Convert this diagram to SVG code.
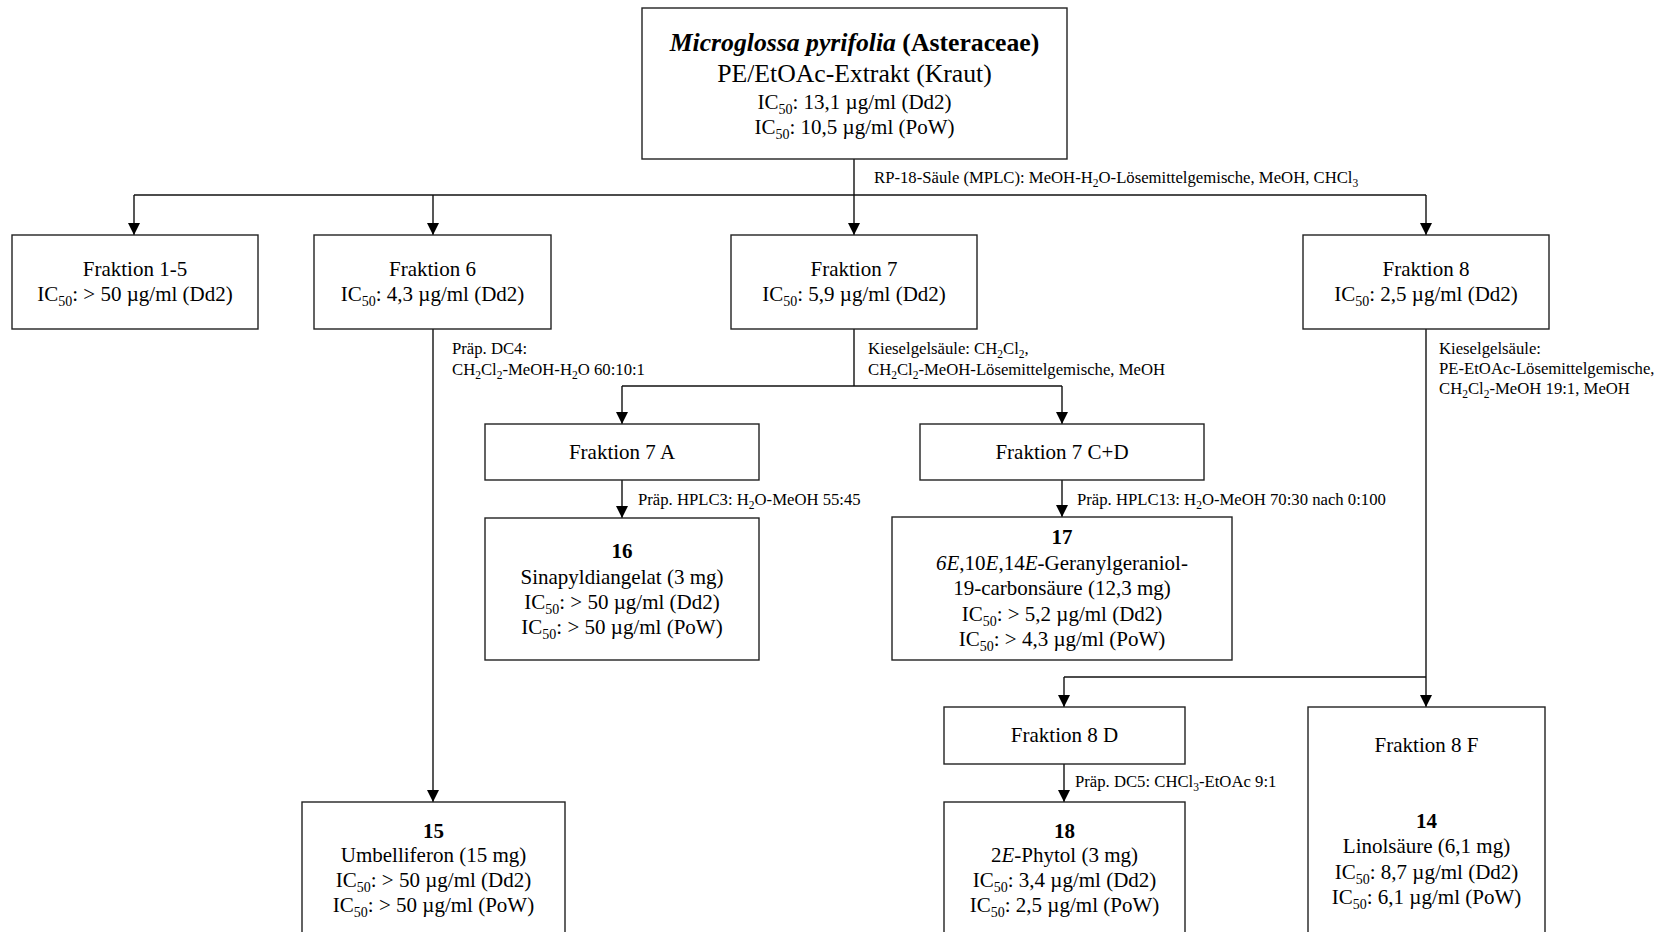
<svg xmlns="http://www.w3.org/2000/svg" width="1659" height="932" viewBox="0 0 1659 932">
<style>
text{font-family:"Liberation Serif","Times New Roman",serif;fill:#000;}
.n{font-size:21px;text-anchor:middle;}
.t{font-size:25.7px;text-anchor:middle;}
.l{font-size:16.7px;}
.b{font-weight:bold;}
.i{font-style:italic;}
.box{fill:#fff;stroke:#222;stroke-width:1.4;}
.c path{fill:none;stroke:#111;stroke-width:1.4;}
</style>
<defs>
<marker id="a" markerUnits="userSpaceOnUse" markerWidth="12" markerHeight="12" viewBox="0 0 12 12" refX="12" refY="6" orient="auto">
<path d="M0,0 L12,6 L0,12 z" fill="#000"/>
</marker>
</defs>
<rect width="1659" height="932" fill="#fff"/>
<g class="c" id="connectors">
<path d="M854,159 V195"/>
<path d="M134,195 H1426"/>
<path d="M134,195 V235" marker-end="url(#a)"/>
<path d="M433,195 V235" marker-end="url(#a)"/>
<path d="M854,195 V235" marker-end="url(#a)"/>
<path d="M1426,195 V235" marker-end="url(#a)"/>
<path d="M433,329 V802" marker-end="url(#a)"/>
<path d="M854,329 V386"/>
<path d="M622,386 H1062"/>
<path d="M622,386 V424" marker-end="url(#a)"/>
<path d="M1062,386 V424" marker-end="url(#a)"/>
<path d="M622,480 V518" marker-end="url(#a)"/>
<path d="M1062,480 V517" marker-end="url(#a)"/>
<path d="M1426,329 V707" marker-end="url(#a)"/>
<path d="M1064,677 H1426"/>
<path d="M1064,677 V707" marker-end="url(#a)"/>
<path d="M1064,764 V802" marker-end="url(#a)"/>
</g>
<g id="labels">
<text class="l" x="874" y="183">RP-18-Säule (MPLC): MeOH-H<tspan dy="4" font-size="11.5">2</tspan><tspan dy="-4">O-Lösemittelgemische, MeOH, CHCl</tspan><tspan dy="4" font-size="11.5">3</tspan></text>
<text class="l" x="452" y="354">Präp. DC4:</text>
<text class="l" x="452" y="375">CH<tspan dy="4" font-size="11.5">2</tspan><tspan dy="-4">Cl</tspan><tspan dy="4" font-size="11.5">2</tspan><tspan dy="-4">-MeOH-H</tspan><tspan dy="4" font-size="11.5">2</tspan><tspan dy="-4">O 60:10:1</tspan></text>
<text class="l" x="868" y="354">Kieselgelsäule: CH<tspan dy="4" font-size="11.5">2</tspan><tspan dy="-4">Cl</tspan><tspan dy="4" font-size="11.5">2</tspan><tspan dy="-4">,</tspan></text>
<text class="l" x="868" y="375">CH<tspan dy="4" font-size="11.5">2</tspan><tspan dy="-4">Cl</tspan><tspan dy="4" font-size="11.5">2</tspan><tspan dy="-4">-MeOH-Lösemittelgemische, MeOH</tspan></text>
<text class="l" x="1439" y="354">Kieselgelsäule:</text>
<text class="l" x="1439" y="374">PE-EtOAc-Lösemittelgemische,</text>
<text class="l" x="1439" y="394">CH<tspan dy="4" font-size="11.5">2</tspan><tspan dy="-4">Cl</tspan><tspan dy="4" font-size="11.5">2</tspan><tspan dy="-4">-MeOH 19:1, MeOH</tspan></text>
<text class="l" x="638" y="505">Präp. HPLC3: H<tspan dy="4" font-size="11.5">2</tspan><tspan dy="-4">O-MeOH 55:45</tspan></text>
<text class="l" x="1077" y="505">Präp. HPLC13: H<tspan dy="4" font-size="11.5">2</tspan><tspan dy="-4">O-MeOH 70:30 nach 0:100</tspan></text>
<text class="l" x="1075" y="787">Präp. DC5: CHCl<tspan dy="4" font-size="11.5">3</tspan><tspan dy="-4">-EtOAc 9:1</tspan></text>
</g>
<g id="n-top">
<rect class="box" x="642" y="8" width="425" height="151"/>
<text class="t b" x="854.5" y="51"><tspan class="i">Microglossa pyrifolia</tspan> (Asteraceae)</text>
<text class="t" x="854.5" y="82">PE/EtOAc-Extrakt (Kraut)</text>
<text class="n" x="854.5" y="109">IC<tspan dy="5" font-size="14">50</tspan><tspan dy="-5">: 13,1 µg/ml (Dd2)</tspan></text>
<text class="n" x="854.5" y="134">IC<tspan dy="5" font-size="14">50</tspan><tspan dy="-5">: 10,5 µg/ml (PoW)</tspan></text>
</g>
<g id="n-f1-5">
<rect class="box" x="12" y="235" width="246" height="94"/>
<text class="n" x="135" y="276">Fraktion 1-5</text>
<text class="n" x="135" y="301">IC<tspan dy="5" font-size="14">50</tspan><tspan dy="-5">: &gt; 50 µg/ml (Dd2)</tspan></text>
</g>
<g id="n-f6">
<rect class="box" x="314" y="235" width="237" height="94"/>
<text class="n" x="432.5" y="276">Fraktion 6</text>
<text class="n" x="432.5" y="301">IC<tspan dy="5" font-size="14">50</tspan><tspan dy="-5">: 4,3 µg/ml (Dd2)</tspan></text>
</g>
<g id="n-f7">
<rect class="box" x="731" y="235" width="246" height="94"/>
<text class="n" x="854" y="276">Fraktion 7</text>
<text class="n" x="854" y="301">IC<tspan dy="5" font-size="14">50</tspan><tspan dy="-5">: 5,9 µg/ml (Dd2)</tspan></text>
</g>
<g id="n-f8">
<rect class="box" x="1303" y="235" width="246" height="94"/>
<text class="n" x="1426" y="276">Fraktion 8</text>
<text class="n" x="1426" y="301">IC<tspan dy="5" font-size="14">50</tspan><tspan dy="-5">: 2,5 µg/ml (Dd2)</tspan></text>
</g>
<g id="n-f7a">
<rect class="box" x="485" y="424" width="274" height="56"/>
<text class="n" x="622" y="459">Fraktion 7 A</text>
</g>
<g id="n-f7cd">
<rect class="box" x="920" y="424" width="284" height="56"/>
<text class="n" x="1062" y="459">Fraktion 7 C+D</text>
</g>
<g id="n-16">
<rect class="box" x="485" y="518" width="274" height="142"/>
<text class="n b" x="622" y="558">16</text>
<text class="n" x="622" y="584">Sinapyldiangelat (3 mg)</text>
<text class="n" x="622" y="609">IC<tspan dy="5" font-size="14">50</tspan><tspan dy="-5">: &gt; 50 µg/ml (Dd2)</tspan></text>
<text class="n" x="622" y="634">IC<tspan dy="5" font-size="14">50</tspan><tspan dy="-5">: &gt; 50 µg/ml (PoW)</tspan></text>
</g>
<g id="n-17">
<rect class="box" x="892" y="517" width="340" height="143"/>
<text class="n b" x="1062" y="544">17</text>
<text class="n" x="1062" y="570"><tspan class="i">6E</tspan>,10<tspan class="i">E</tspan>,14<tspan class="i">E</tspan>-Geranylgeraniol-</text>
<text class="n" x="1062" y="595">19-carbonsäure (12,3 mg)</text>
<text class="n" x="1062" y="621">IC<tspan dy="5" font-size="14">50</tspan><tspan dy="-5">: &gt; 5,2 µg/ml (Dd2)</tspan></text>
<text class="n" x="1062" y="646">IC<tspan dy="5" font-size="14">50</tspan><tspan dy="-5">: &gt; 4,3 µg/ml (PoW)</tspan></text>
</g>
<g id="n-f8d">
<rect class="box" x="944" y="707" width="241" height="57"/>
<text class="n" x="1064.5" y="742">Fraktion 8 D</text>
</g>
<g id="n-15">
<rect class="box" x="302" y="802" width="263" height="140"/>
<text class="n b" x="433.5" y="838">15</text>
<text class="n" x="433.5" y="862">Umbelliferon (15 mg)</text>
<text class="n" x="433.5" y="887">IC<tspan dy="5" font-size="14">50</tspan><tspan dy="-5">: &gt; 50 µg/ml (Dd2)</tspan></text>
<text class="n" x="433.5" y="912">IC<tspan dy="5" font-size="14">50</tspan><tspan dy="-5">: &gt; 50 µg/ml (PoW)</tspan></text>
</g>
<g id="n-18">
<rect class="box" x="944" y="802" width="241" height="140"/>
<text class="n b" x="1064.5" y="838">18</text>
<text class="n" x="1064.5" y="862">2<tspan class="i">E</tspan>-Phytol (3 mg)</text>
<text class="n" x="1064.5" y="887">IC<tspan dy="5" font-size="14">50</tspan><tspan dy="-5">: 3,4 µg/ml (Dd2)</tspan></text>
<text class="n" x="1064.5" y="912">IC<tspan dy="5" font-size="14">50</tspan><tspan dy="-5">: 2,5 µg/ml (PoW)</tspan></text>
</g>
<g id="n-f8f">
<rect class="box" x="1308" y="707" width="237" height="235"/>
<text class="n" x="1426.5" y="752">Fraktion 8 F</text>
<text class="n b" x="1426.5" y="828">14</text>
<text class="n" x="1426.5" y="853">Linolsäure (6,1 mg)</text>
<text class="n" x="1426.5" y="879">IC<tspan dy="5" font-size="14">50</tspan><tspan dy="-5">: 8,7 µg/ml (Dd2)</tspan></text>
<text class="n" x="1426.5" y="904">IC<tspan dy="5" font-size="14">50</tspan><tspan dy="-5">: 6,1 µg/ml (PoW)</tspan></text>
</g>
</svg>
